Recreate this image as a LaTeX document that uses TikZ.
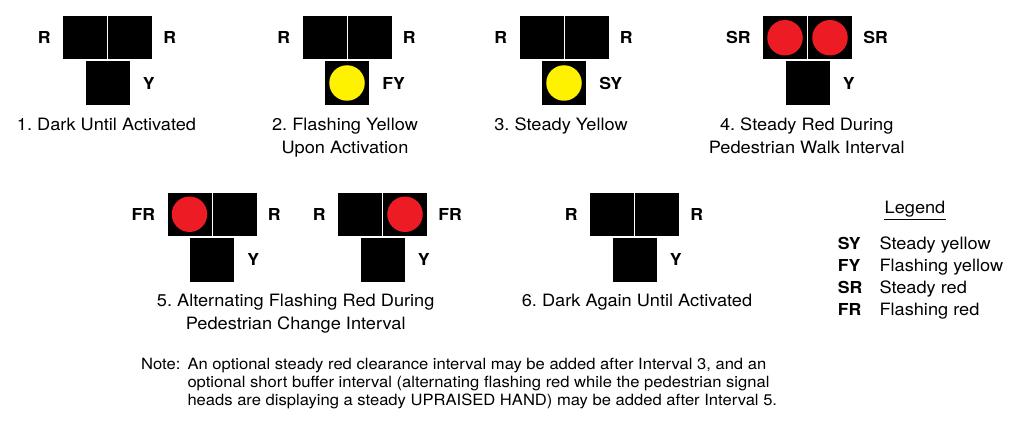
\documentclass[tikz,border=0pt]{standalone}
\usepackage{fontspec}
\setmainfont{TeX Gyre Heros}[FakeStretch=1.07]
\definecolor{sigred}{RGB}{237,28,36}
\definecolor{sigyel}{RGB}{255,242,0}
\tikzset{
  lampbox/.style={fill=black, inner sep=0pt, minimum width=44pt, minimum height=43.5pt},
  lowbox/.style={fill=black, inner sep=0pt, minimum width=44pt, minimum height=44pt},
  bulb/.style={circle, inner sep=0pt, minimum size=35.5pt},
  siglab/.style={inner sep=0pt, font=\bfseries\fontsize{16.5}{19}\selectfont},
  caption/.style={inner sep=0pt, align=center, anchor=north, font=\fontsize{17}{22.7}\selectfont},
  notetext/.style={inner sep=0pt, anchor=base west, font=\fontsize{15.5}{17.8}\selectfont},
  legab/.style={inner sep=0pt, anchor=base west, font=\bfseries\fontsize{16.5}{20}\selectfont},
  legtx/.style={inner sep=0pt, anchor=base west, font=\fontsize{17}{20}\selectfont},
}
% name, cx, ty, left label, right label, lower label
\newcommand\sighead[6]{%
  \node[lampbox] (#1l) at (#2-22.5, #3+21.75) {};
  \node[lampbox] (#1r) at (#2+22.5, #3+21.75) {};
  \node[lowbox] (#1y) at (#2, #3+67) {};
  \node[siglab, anchor=east] (#1lt) at ([xshift=-12pt]#1l.west) {#4};
  \node[siglab, anchor=west] (#1rt) at ([xshift=11pt]#1r.east) {#5};
  \node[siglab, anchor=west] (#1yt) at ([xshift=13pt]#1y.east) {#6};
}
\frenchspacing
\begin{document}
\frenchspacing
\begin{tikzpicture}[x=1pt, y=-1pt]
\useasboundingbox (0,0) rectangle (1021,428);
% Row 1
\sighead{a}{107.5}{16}{R}{R}{Y}
\sighead{b}{347}{16}{R}{R}{FY}
\node[bulb, fill=sigyel] (bc) at (by) {};
\sighead{c}{564}{16}{R}{R}{SY}
\node[bulb, fill=sigyel] (cc) at (cy) {};
\sighead{d}{807.5}{16}{SR}{SR}{Y}
\node[bulb, fill=sigred] (dcl) at (dl) {};
\node[bulb, fill=sigred] (dcr) at (dr) {};
\node[caption] (capa) at (106.5,118) {1. Dark Until Activated};
\node[caption] (capb) at (345,118) {2. Flashing Yellow\\Upon Activation};
\node[caption] (capc) at (561,118) {3. Steady Yellow};
\node[caption] (capd) at (806.7,118) {4. Steady Red During\\Pedestrian Walk Interval};
% Row 2
\sighead{e}{212}{192.5}{FR}{R}{Y}
\node[bulb, fill=sigred] (ec) at (el) {};
\sighead{f}{382.5}{192.5}{R}{FR}{Y}
\node[bulb, fill=sigred] (fc) at (fr) {};
\sighead{g}{634.5}{192.5}{R}{R}{Y}
\node[caption] (cape) at (295.7,294) {5. Alternating Flashing Red During\\Pedestrian Change Interval};
\node[caption] (capg) at (637,294) {6. Dark Again Until Activated};
% Legend
\node[inner sep=0pt, anchor=base, font=\fontsize{17}{20}\selectfont] (leg) at (915,213) {Legend};
\draw[line width=1.4pt] ([yshift=-6.3pt]leg.base west) -- ([yshift=-6.3pt]leg.base east);
\node[legab] (l1a) at (837.7,249) {SY};
\node[legtx] (l1b) at (879.3,249) {Steady yellow};
\node[legab] (l2a) at (837.7,271.3) {FY};
\node[legtx] (l2b) at (879.3,271.3) {Flashing yellow};
\node[legab] (l3a) at (837.7,293.6) {SR};
\node[legtx] (l3b) at (879.3,293.6) {Steady red};
\node[legab] (l4a) at (837.7,315) {FR};
\node[legtx] (l4b) at (879.3,315) {Flashing red};
% Note
\node[notetext] (note) at (141,369.3) {Note:};
\node[notetext] (n1) at (187.3,369.3) {An optional steady red clearance interval may be added after Interval 3, and an};
\node[notetext] (n2) at (187.3,387.2) {optional short buffer interval (alternating flashing red while the pedestrian signal};
\node[notetext] (n3) at (187.3,405) {heads are displaying a steady UPRAISED HAND) may be added after Interval 5.};
\end{tikzpicture}
\end{document}
